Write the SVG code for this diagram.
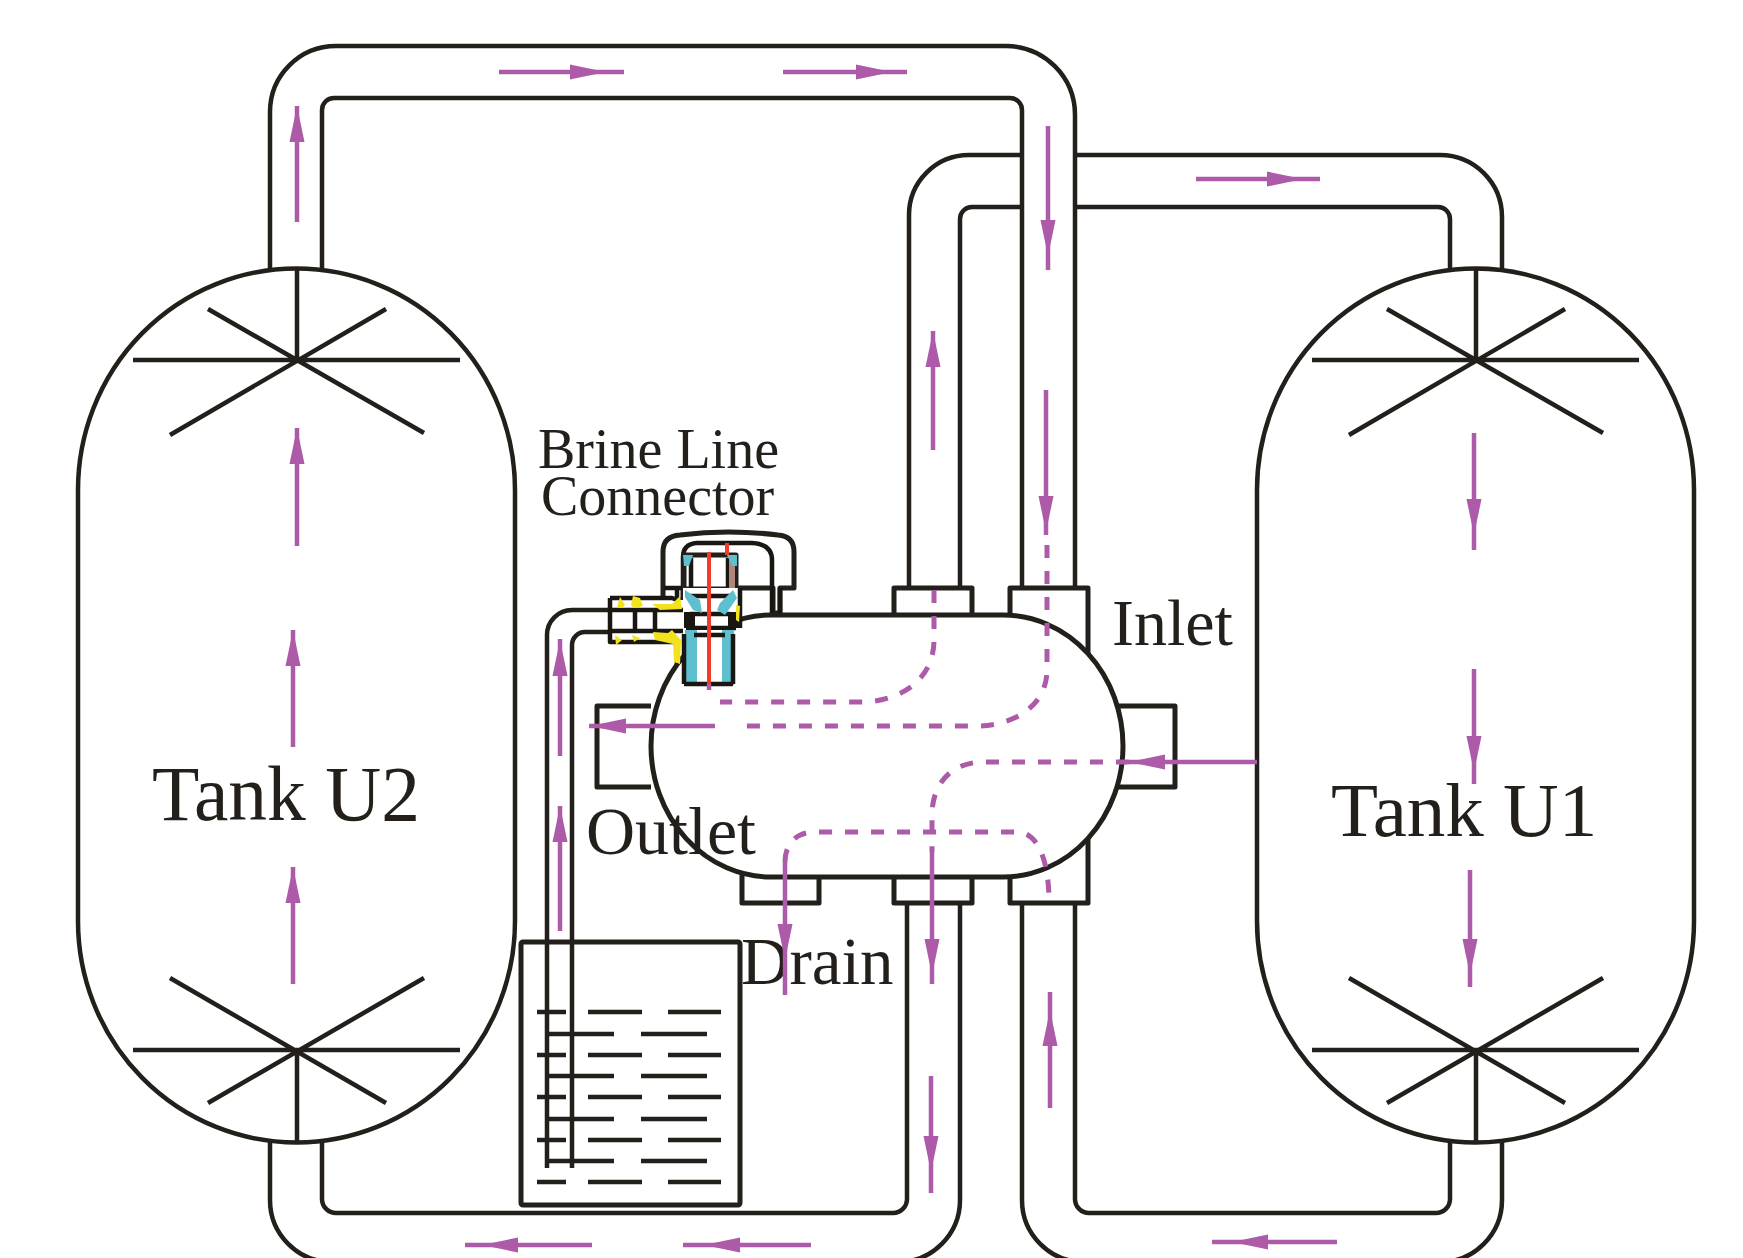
<svg xmlns="http://www.w3.org/2000/svg" width="1743" height="1258" viewBox="0 0 1743 1258">
<style>
.l{fill:none;stroke:#231f1a;stroke-width:4.5;stroke-linejoin:round}
.t{fill:#fff;stroke:#231f1a;stroke-width:4.5}
.w{fill:#fff;stroke:#231f1a;stroke-width:5;stroke-linejoin:round}
.b{fill:none;stroke:#1a1712;stroke-width:4.5;stroke-linejoin:round}
.m{fill:none;stroke:#ad5aa8;stroke-width:4.5}
.d{fill:none;stroke:#ad5aa8;stroke-width:5;stroke-dasharray:13 13}
.h{fill:#ad5aa8}
.c{fill:#5dbfd0}
.y{fill:#f2e21c}
.r{fill:none;stroke:#f03c2a;stroke-width:4}
.k{font-family:"Liberation Serif",serif;fill:#231f1a}
</style>
<defs>
<path id="h" class="h" d="M0 0L-36 -7.5V7.5Z"/>
<g id="star">
<path class="l" d="M297 269V360M133 360H460M208 309L424 433M386 309L170 435"/>
</g>
<g id="starb">
<path class="l" d="M297 1142V1050M133 1050H460M170 978L386 1103M424 978L208 1103"/>
</g>
<path id="tk" class="t" d="M78 490A218 221 0 0 1 515 490V921A218 221 0 0 1 78 921Z"/>
<g id="wr"><path class="l" d="M0 0H29M51 0H105M131 0H184"/></g>
<g id="wrb"><path class="l" d="M0 0H67M94 0H160"/></g>
</defs>

<g id="pipes">
<path class="l" d="M270 269V112A66 66 0 0 1 336 46H1006A69 69 0 0 1 1075 115V590"/>
<path class="l" d="M322 269V110A12 12 0 0 1 334 98H1010A12 12 0 0 1 1022 110V590"/>
<path class="l" d="M909 590V215A60 60 0 0 1 969 155H1022M1075 155H1440A62 62 0 0 1 1502 217V269"/>
<path class="l" d="M960 590V219A12 12 0 0 1 972 207H1022M1075 207H1438A12 12 0 0 1 1450 219V269"/>
<path class="l" d="M960 903V1200A62 62 0 0 1 898 1262H332A62 62 0 0 1 270 1200V1142"/>
<path class="l" d="M907 903V1199A14 14 0 0 1 893 1213H336A14 14 0 0 1 322 1199V1142"/>
<path class="l" d="M1022 903V1200A62 62 0 0 0 1084 1262H1440A62 62 0 0 0 1502 1200V1142"/>
<path class="l" d="M1075 903V1199A14 14 0 0 0 1089 1213H1436A14 14 0 0 0 1450 1199V1142"/>
<path class="l" d="M547 1168V635A25 25 0 0 1 572 610H612"/>
<path class="l" d="M572 1168V645A13 13 0 0 1 585 632H612"/>
</g>

<g id="tank-u2">
<use href="#tk"/><use href="#star"/><use href="#starb"/>
<text class="k" x="152" y="820" font-size="77.5">Tank U2</text>
</g>
<g id="tank-u1">
<use href="#tk" x="1179"/><use href="#star" x="1179"/><use href="#starb" x="1179"/>
<text class="k" x="1331" y="836" font-size="77">Tank U1</text>
</g>

<g id="brine-tank">
<rect class="w" x="521" y="942" width="219" height="263" rx="2"/>
<use href="#wr" x="537" y="1012"/><use href="#wrb" x="547" y="1034"/>
<use href="#wr" x="537" y="1055"/><use href="#wrb" x="547" y="1076"/>
<use href="#wr" x="537" y="1097"/><use href="#wrb" x="547" y="1119"/>
<use href="#wr" x="537" y="1140"/><use href="#wrb" x="547" y="1161"/>
<use href="#wr" x="537" y="1182"/>
<path class="l" d="M547 942V1168M572 942V1168"/>
<text class="k" x="741" y="984" font-size="67">Drain</text>
</g>

<g id="valve">
<path class="w" d="M894 620V588H972V620M1010 620V588H1088V655M1117 706H1175V787H1117M651 706H597V787H651M742 870V903H819V870M894 870V903H972V870M1010 870V903H1088V830"/>
<path class="w" d="M771 615H1003A120 131 0 0 1 1003 877H771A120 131 0 0 1 771 615Z"/>
<text class="k" x="586" y="854" font-size="68">Outlet</text>
<text class="k" x="1112" y="645" font-size="66">Inlet</text>
</g>

<g id="brine-line-connector">
<path class="w" d="M663 588V552Q663 536 680 535Q728 529 778 535Q794 536 794 552V588H780V613H773V588H683V600H663Z"/>
<path class="b" d="M664 588H683V557Q683 544 697 543H752Q772 544 772 560V613M780 588V613"/>
<path fill="#fff" d="M612 600H683V642H612Z"/>
<path class="b" d="M610 598H672L677 600V588M610 598V642H677V664M612 610H683M612 631H683M635 610V631M655 610V631"/>
<path class="y" d="M620 597L625 605L622 608L617 607ZM633 596L640 598L643 606L634 608L631 605ZM652 604L672 604L680 596L682 609L660 610ZM615 635L622 640L616 645ZM632 635L640 638L634 642ZM653 632L668 633L672 630L681 640L680 664L674 662L673 644L655 640Z"/>
<rect class="w" x="684" y="555" width="52" height="34"/>
<path class="b" d="M691 558V588M728 558V588"/>
<path fill="#b0867a" d="M729 560H735V588H729Z"/>
<path class="c" d="M683 555H693L689 566H684ZM727 555H737V566H732Z"/>
<rect x="683" y="588" width="57" height="42" fill="#fff"/>
<path class="b" d="M740 588V628M690 596L730 596"/>
<rect x="684" y="612" width="11" height="16" fill="#1a1712"/><rect x="728" y="612" width="10" height="16" fill="#1a1712"/>
<path class="b" d="M690 614H730M686 628H736"/>
<path class="c" d="M685 590L700 600L702 613L693 610L685 597ZM733 590L737 598L725 615L717 610L720 603Z"/>
<path class="y" d="M736 605L740 606L739 622L736 620Z"/>
<rect x="684" y="630" width="49" height="55" fill="#fff"/>
<path class="c" d="M685 630H697V685H685ZM722 630H734V685H722Z"/>
<path class="b" d="M684 684H733M684 634V684M733 634V684M694 635H725"/>
<path class="r" d="M709 552V684M727 543V555"/>
<path class="m" d="M709 684V690"/>
</g>

<g id="connectors">
<path class="m" d="M499 72H624M783 72H907M1196 179H1320"/>
<use href="#h" transform="translate(606 72)"/><use href="#h" transform="translate(892 72)"/><use href="#h" transform="translate(1303 179)"/>
<path class="m" d="M297 106V222M297 428V546M293 630V747M293 867V984"/>
<use href="#h" transform="translate(297 106) rotate(-90)"/><use href="#h" transform="translate(297 428) rotate(-90)"/><use href="#h" transform="translate(293 630) rotate(-90)"/><use href="#h" transform="translate(293 867) rotate(-90)"/>
<path class="m" d="M1048 126V270M1046 390V535M933 331V450M1474 433V550M1474 669V784M1470 870V987"/>
<use href="#h" transform="translate(1048 256) rotate(90)"/><use href="#h" transform="translate(1046 532) rotate(90)"/><use href="#h" transform="translate(933 331) rotate(-90)"/><use href="#h" transform="translate(1474 535) rotate(90)"/><use href="#h" transform="translate(1474 772) rotate(90)"/><use href="#h" transform="translate(1470 975) rotate(90)"/>
<path class="m" d="M932 852V984M931 1076V1193M1050 992V1108M785 862V995M560 639V756M560 806V931"/>
<use href="#h" transform="translate(932 975) rotate(90)"/><use href="#h" transform="translate(931 1172) rotate(90)"/><use href="#h" transform="translate(1050 1010) rotate(-90)"/><use href="#h" transform="translate(785 960) rotate(90)"/><use href="#h" transform="translate(560 640) rotate(-90)"/><use href="#h" transform="translate(560 806) rotate(-90)"/>
<path class="m" d="M465 1245H592M683 1245H811M1212 1242H1337M589 726H715M1129 762H1257"/>
<use href="#h" transform="translate(482 1245) rotate(180)"/><use href="#h" transform="translate(704 1245) rotate(180)"/><use href="#h" transform="translate(1232 1242) rotate(180)"/><use href="#h" transform="translate(590 726) rotate(180)"/><use href="#h" transform="translate(1129 762) rotate(180)"/>
<path class="d" d="M934 590V640C934 680 900 702 860 702H720"/>
<path class="d" d="M1047 545V670C1047 705 1015 726 976 726H740"/>
<path class="d" d="M1129 762H984C950 762 932 785 932 815V852"/>
<path class="d" d="M785 862C785 845 795 832 815 832H1018C1035 832 1049 855 1049 902"/>
</g>

<g id="labels">
<text class="k" x="538" y="468" font-size="56">Brine Line</text>
<text class="k" x="541" y="515" font-size="56">Connector</text>
</g>
</svg>
